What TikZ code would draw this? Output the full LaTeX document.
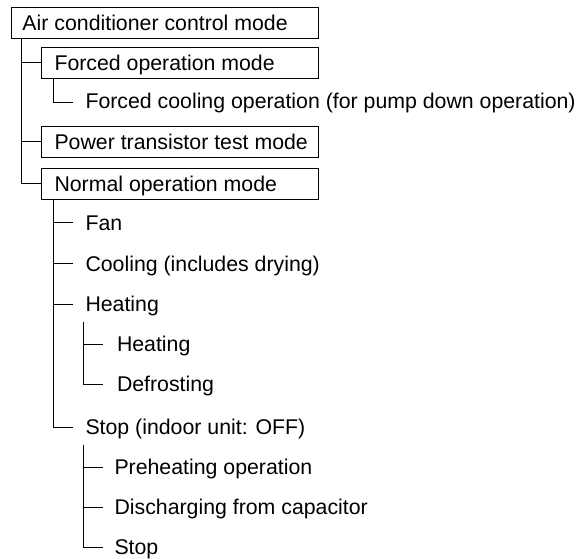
\documentclass[tikz,border=0pt]{standalone}
\usepackage{fontspec}
\setmainfont{Liberation Sans}
\usetikzlibrary{calc}
\begin{document}
\begin{tikzpicture}[x=1pt,y=-1pt,line width=1pt,
  every node/.style={font=\fontsize{21.3}{25}\selectfont, text height=15.2pt, text depth=0pt},
  modebox/.style={draw, anchor=north west, minimum height=31pt, inner ysep=0pt,
    execute at begin node={\hbox to \boxtextwd\bgroup}, execute at end node={\hss\egroup}},
  topbox/.style={modebox, inner xsep=11pt, /utils/exec={\def\boxtextwd{285pt}}},
  subbox/.style={modebox, inner xsep=13pt, /utils/exec={\def\boxtextwd{251pt}}},
  item/.style={anchor=west, inner xsep=12pt, inner ysep=9.5pt}]
\useasboundingbox (0,0) rectangle (579,559);

\node[topbox] (acm) at (11,7) {Air conditioner control mode};
\node[subbox] (fom) at (41,47) {Forced operation mode};
\node[item] (fco) at (73,101) {Forced cooling operation (for pump down operation)};
\node[subbox] (ptt) at (41,126) {Power transistor test mode};
\node[subbox] (nom) at (41,168) {Normal operation mode};

\node[item] (fan) at (73,223) {Fan};
\node[item] (cool) at (73,264) {Cooling (includes drying)};
\node[item] (heat) at (73,304) {Heating};
\node[item, inner xsep=13.5pt] (heat2) at (103,344) {Heating};
\node[item, inner xsep=13.5pt] (defr) at (103,384) {Defrosting};
\node[item] (stopi) at (73,427) {Stop (indoor unit: OFF)};
\node[item, inner xsep=11pt] (preh) at (103,467) {Preheating operation};
\node[item, inner xsep=11pt] (disc) at (103,507) {Discharging from capacitor};
\node[item, inner xsep=11pt] (stop) at (103,547) {Stop};

% level 0
\draw ($(acm.south west)+(10,0)$) |- (fom.west);
\draw ($(acm.south west)+(10,0)$) |- (ptt.west);
\draw ($(acm.south west)+(10,0)$) |- (nom.west);
% forced
\draw ($(fom.south west)+(12,0)$) |- ($(fco.west)+(0,2)$);
% normal
\draw ($(nom.south west)+(12,0)$) |- (fan.west);
\draw ($(nom.south west)+(12,0)$) |- (cool.west);
\draw ($(nom.south west)+(12,0)$) |- (heat.west);
\draw ($(nom.south west)+(12,0)$) |- (stopi.west);
% heating
\draw ($(heat.south west)+(10,0)$) |- (heat2.west);
\draw ($(heat.south west)+(10,0)$) |- (defr.west);
% stop
\draw ($(stopi.south west)+(10,0)$) |- (preh.west);
\draw ($(stopi.south west)+(10,0)$) |- (disc.west);
\draw ($(stopi.south west)+(10,0)$) |- (stop.west);
\end{tikzpicture}
\end{document}
